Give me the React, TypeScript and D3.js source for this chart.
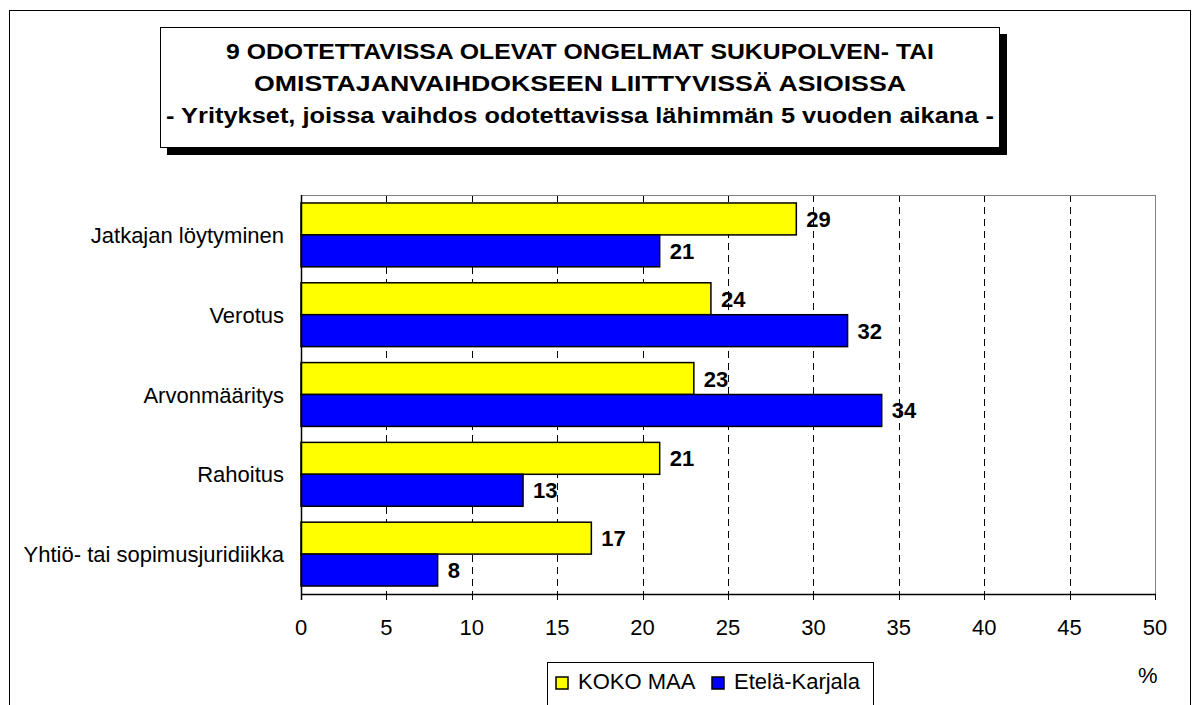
import React from "react";
import * as d3 from "d3";

const categories = [
  "Jatkajan löytyminen",
  "Verotus",
  "Arvonmääritys",
  "Rahoitus",
  "Yhtiö- tai sopimusjuridiikka",
];
const kokoMaa = [29, 24, 23, 21, 17];
const etelaKarjala = [21, 32, 34, 13, 8];
const xTicks = [0, 5, 10, 15, 20, 25, 30, 35, 40, 45, 50];
const seriesNames = ["KOKO MAA", "Etelä-Karjala"];
const seriesColors = ["#FFFF00", "#0000FF"];
const titleLines = [
  "9 ODOTETTAVISSA OLEVAT ONGELMAT SUKUPOLVEN- TAI",
  "OMISTAJANVAIHDOKSEEN LIITTYVISSÄ ASIOISSA",
  "- Yritykset, joissa vaihdos odotettavissa lähimmän 5 vuoden aikana -",
];
const titleWidths = [708, 652, 828];

const W = 1196;
const H = 705;
const FONT = "Arial, 'Liberation Sans', Helvetica, sans-serif";

export default function App() {
  const left = 301;
  const right = 1155;
  const top = 195;
  const bottom = 594;
  const x = d3.scaleLinear().domain([0, 50]).range([left, right]);
  const y = d3.scaleBand<string>().domain(categories).range([top, bottom]).padding(0);
  const bw = y.bandwidth();
  const barH = bw * 0.4;
  const inset = bw * 0.1;
  const series = [kokoMaa, etelaKarjala];

  return (
    <svg
      width={W}
      height={H}
      style={{ position: "absolute", left: 0, top: 0, background: "#fff" }}
      fontFamily={FONT}
    >
      <rect x={0} y={0} width={W} height={H} fill="#fff" />
      {/* outer border */}
      <rect x={9.5} y={10.5} width={1181} height={730} fill="none" stroke="#000" strokeWidth={1} />

      {/* title box */}
      <rect x={167} y={34} width={840} height={121} fill="#000" />
      <rect x={160.5} y={27.5} width={839} height={120} fill="#fff" stroke="#000" strokeWidth={1} />
      {titleLines.map((t, i) => (
        <text
          key={i}
          x={580}
          y={59 + i * 32}
          textAnchor="middle"
          fontSize={22.5}
          fontWeight="bold"
          textLength={titleWidths[i]}
          lengthAdjust="spacingAndGlyphs"
        >
          {t}
        </text>
      ))}

      {/* gridlines */}
      {xTicks
        .filter((t) => t > 0 && t < 50)
        .map((t) => (
          <line
            key={t}
            x1={Math.round(x(t)) + 0.5}
            x2={Math.round(x(t)) + 0.5}
            y1={top}
            y2={bottom}
            stroke="#000"
            strokeWidth={1}
            strokeDasharray="7,5"
          />
        ))}
      {/* plot frame top/right */}
      <line x1={left} x2={right + 0.5} y1={top + 0.5} y2={top + 0.5} stroke="#808080" strokeWidth={1} />
      <line x1={right + 0.5} x2={right + 0.5} y1={top} y2={bottom} stroke="#808080" strokeWidth={1} />

      {/* bars */}
      {categories.map((c, ci) =>
        series.map((s, si) => {
          const by = (y(c) as number) + inset + si * barH;
          return (
            <g key={c + si}>
              <rect
                x={x(0)}
                y={by}
                width={x(s[ci]) - x(0)}
                height={barH}
                fill={seriesColors[si]}
                stroke="#000"
                strokeWidth={1.5}
              />
              <text
                x={x(s[ci]) + 10}
                y={by + barH / 2 + 8}
                fontSize={22}
                fontWeight="bold"
              >
                {s[ci]}
              </text>
            </g>
          );
        })
      )}

      {/* axes */}
      <line x1={left + 0.5} x2={left + 0.5} y1={top} y2={bottom + 6} stroke="#000" strokeWidth={1.5} />
      <line x1={left} x2={right + 1} y1={bottom + 0.5} y2={bottom + 0.5} stroke="#000" strokeWidth={1.5} />
      {xTicks.map((t) => (
        <g key={t}>
          <line
            x1={Math.round(x(t)) + 0.5}
            x2={Math.round(x(t)) + 0.5}
            y1={bottom}
            y2={bottom + 6}
            stroke="#000"
            strokeWidth={1}
          />
          <text x={x(t)} y={635} textAnchor="middle" fontSize={22}>
            {t}
          </text>
        </g>
      ))}

      {/* category labels */}
      {categories.map((c) => (
        <text
          key={c}
          x={284}
          y={(y(c) as number) + bw / 2 + 8}
          textAnchor="end"
          fontSize={22}
        >
          {c}
        </text>
      ))}

      {/* legend */}
      <rect x={547.5} y={662.5} width={326} height={60} fill="#fff" stroke="#000" strokeWidth={1} />
      {seriesNames.map((n, i) => {
        const lx = i === 0 ? 556 : 712;
        return (
          <g key={n}>
            <rect x={lx} y={677} width={12} height={12} fill={seriesColors[i]} stroke="#000" strokeWidth={1.5} />
            <text x={lx + 22} y={689} fontSize={22}>
              {n}
            </text>
          </g>
        );
      })}

      <text x={1138} y={683} fontSize={22}>
        %
      </text>
    </svg>
  );
}
